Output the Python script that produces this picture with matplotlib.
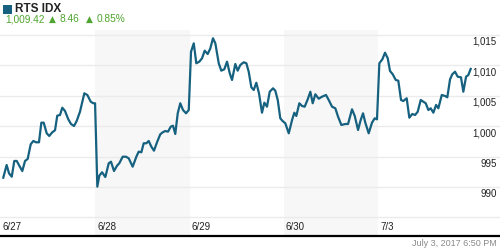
import matplotlib
matplotlib.use("Agg")
import matplotlib.pyplot as plt
import matplotlib.transforms as mtransforms
from matplotlib.patches import Rectangle

# ---------------- data ----------------
title = "RTS IDX"
last_value = "1,009.42"
change = "8.46"
change_pct = "0.85%"
timestamp = "July 3, 2017 6:50 PM"

day_labels = ["6/27", "6/28", "6/29", "6/30", "7/3"]
shaded_days = [1, 3]
y_ticks = [990, 995, 1000, 1005, 1010, 1015]
y_tick_labels = ["990", "995", "1,000", "1,005", "1,010", "1,015"]
grid_levels = [985, 990, 995, 1000, 1005, 1010, 1015]

# position in trading days (day index + fraction of session)
t_0627 = [0.024, 0.060, 0.085, 0.114, 0.141, 0.167, 0.194, 0.226, 0.255, 0.283,
          0.315, 0.343, 0.371, 0.403, 0.428, 0.453, 0.485, 0.512, 0.544, 0.573,
          0.597, 0.626, 0.650, 0.679, 0.714, 0.743, 0.775, 0.803, 0.838, 0.884,
          0.916, 0.952, 0.979, 0.998]
v_0627 = [991.53, 993.62, 992.25, 991.69, 994.28, 994.28, 993.50, 992.63, 994.28, 994.61,
          997.02, 997.57, 997.35, 997.35, 1000.58, 1000.58, 998.83, 998.39, 999.00, 999.33,
          1001.73, 1001.84, 1003.04, 1002.50, 1001.13, 1000.36, 1000.03, 1000.86, 1002.38, 1005.41,
          1005.13, 1004.03, 1003.77, 1003.77]

t_0628 = [1.022, 1.043, 1.072, 1.107, 1.143, 1.167, 1.199, 1.231, 1.255, 1.291,
          1.326, 1.355, 1.397, 1.436, 1.461, 1.489, 1.514, 1.542, 1.567, 1.595,
          1.623, 1.655, 1.690, 1.716, 1.743, 1.772, 1.801, 1.825, 1.849, 1.875,
          1.902, 1.931, 1.963, 1.992]
v_0628 = [990.05, 991.86, 992.42, 991.64, 993.90, 994.16, 992.63, 993.50, 993.90, 994.98,
          994.98, 994.72, 993.34, 994.98, 995.81, 995.71, 997.19, 997.19, 997.57, 996.63,
          995.97, 997.35, 998.67, 999.00, 999.21, 999.10, 999.92, 1000.08, 998.72, 1002.12,
          1003.77, 1002.66, 1002.12, 1002.66]

t_0629 = [2.016, 2.045, 2.072, 2.104, 2.133, 2.161, 2.193, 2.221, 2.249, 2.274,
          2.310, 2.337, 2.369, 2.398, 2.427, 2.451, 2.486, 2.511, 2.539, 2.575,
          2.603, 2.628, 2.656, 2.681, 2.709, 2.737, 2.769, 2.794, 2.822, 2.851,
          2.886, 2.910, 2.936, 2.963, 2.987]
v_0629 = [1012.25, 1013.63, 1010.35, 1010.61, 1011.17, 1012.42, 1011.87, 1012.81, 1014.46, 1013.63,
          1010.35, 1009.13, 1009.36, 1010.61, 1008.70, 1007.60, 1010.23, 1009.13, 1010.07, 1010.51,
          1010.35, 1008.96, 1006.40, 1005.95, 1007.15, 1005.41, 1002.22, 1003.87, 1003.21, 1005.67,
          1006.23, 1005.84, 1004.31, 1001.30, 1000.86]

t_0630 = [3.016, 3.053, 3.088, 3.112, 3.133, 3.165, 3.194, 3.222, 3.254, 3.282,
          3.307, 3.335, 3.371, 3.406, 3.448, 3.477, 3.512, 3.547, 3.576, 3.611,
          3.653, 3.682, 3.724, 3.753, 3.788, 3.816, 3.841, 3.865, 3.901, 3.936,
          3.965, 3.989]
v_0630 = [1000.48, 998.83, 1001.02, 1002.22, 1001.68, 1003.77, 1003.32, 1003.21, 1004.42, 1005.67,
          1003.77, 1005.25, 1004.52, 1004.85, 1005.13, 1004.31, 1003.21, 1002.94, 1001.56, 1000.20,
          1000.36, 1000.36, 1002.78, 1001.68, 999.37, 1001.02, 1002.12, 1000.58, 998.83, 1000.58,
          1001.30, 1001.13]

t_0703 = [4.014, 4.046, 4.074, 4.103, 4.127, 4.156, 4.188, 4.215, 4.244, 4.268,
          4.304, 4.332, 4.364, 4.393, 4.421, 4.453, 4.481, 4.506, 4.534, 4.559,
          4.587, 4.616, 4.640, 4.676, 4.711, 4.735, 4.764, 4.788, 4.817, 4.845,
          4.880, 4.905, 4.934, 4.958, 4.983]
v_0703 = [1010.35, 1011.00, 1012.09, 1011.17, 1009.08, 1008.54, 1007.60, 1007.48, 1004.31, 1004.14,
          1004.59, 1001.40, 1002.01, 1001.84, 1002.38, 1004.31, 1004.03, 1003.77, 1002.66, 1002.94,
          1002.22, 1003.49, 1002.94, 1005.13, 1004.97, 1004.75, 1007.71, 1008.54, 1008.96, 1008.14,
          1008.04, 1005.67, 1008.14, 1008.42, 1009.42]

# ---------------- style ----------------
LINE = "#15617f"
GREEN = "#4ea52f"
GRID = "#ebebeb"
BAND = "#f7f7f7"

plt.rcParams["font.family"] = ["Liberation Sans", "DejaVu Sans"]

W, H = 500, 250
fig = plt.figure(figsize=(W / 100, H / 100), dpi=100)

ax = fig.add_axes([0, (H - 236) / H, 1, (236 - 30) / H])
ax.set_xlim(-0.0106, 5.294)
ax.set_ylim(981.94, 1015.82)
ax.axis("off")

for d in shaded_days:
    ax.axvspan(d, d + 1, color=BAND, lw=0, zorder=0)

for g in grid_levels:
    ax.axhline(g, color=GRID, lw=1.0, zorder=1)

t_all = t_0627 + t_0628 + t_0629 + t_0630 + t_0703
v_all = v_0627 + v_0628 + v_0629 + v_0630 + v_0703
ax.plot(t_all, v_all, color=LINE, lw=1.6, zorder=3, solid_joinstyle="round")

# y tick labels (inside, right)
ylab_tr = mtransforms.offset_copy(
    mtransforms.blended_transform_factory(ax.transAxes, ax.transData),
    fig=fig, x=0, y=-2, units="dots")
for v, lab in zip(y_ticks, y_tick_labels):
    ax.text(0.993, v, lab, transform=ylab_tr, ha="right", va="top",
            fontsize=7, color="#222222")

# x day labels
xlab_tr = mtransforms.offset_copy(
    mtransforms.blended_transform_factory(ax.transData, ax.transAxes),
    fig=fig, x=2, y=0, units="dots")
for i, lab in enumerate(day_labels):
    ax.text(i, 9 / 206, lab, transform=xlab_tr, ha="left", va="center",
            fontsize=7, color="#222222")

# bottom black baseline
fig.add_artist(plt.Line2D([0, 1], [(H - 236) / H] * 2, transform=fig.transFigure,
                          color="black", lw=1.6))

# header
fig.add_artist(Rectangle((3 / W, (H - 14) / H), 9 / W, 9 / H, transform=fig.transFigure,
                         color=LINE, lw=0))
fig.text(15 / W, (H - 9.5) / H, title, fontsize=8.5, fontweight="bold",
         color="#222222", ha="left", va="center")
fig.text(5 / W, (H - 19.5) / H, last_value, fontsize=7.3, color=GREEN,
         ha="left", va="center")
fig.text(49 / W, (H - 19) / H, "\u25B2", fontsize=6.5, color=GREEN,
         ha="left", va="center", family="DejaVu Sans")
fig.text(60 / W, (H - 19.5) / H, change, fontsize=7.3, color=GREEN,
         ha="left", va="center")
fig.text(86 / W, (H - 19) / H, "\u25B2", fontsize=6.5, color=GREEN,
         ha="left", va="center", family="DejaVu Sans")
fig.text(97 / W, (H - 19.5) / H, change_pct, fontsize=7.3, color=GREEN,
         ha="left", va="center")

# footer timestamp
fig.text(497 / W, (H - 243) / H, timestamp, fontsize=6.5, color="#8a8a8a",
         ha="right", va="center")

fig.savefig("out.png", dpi=100)
